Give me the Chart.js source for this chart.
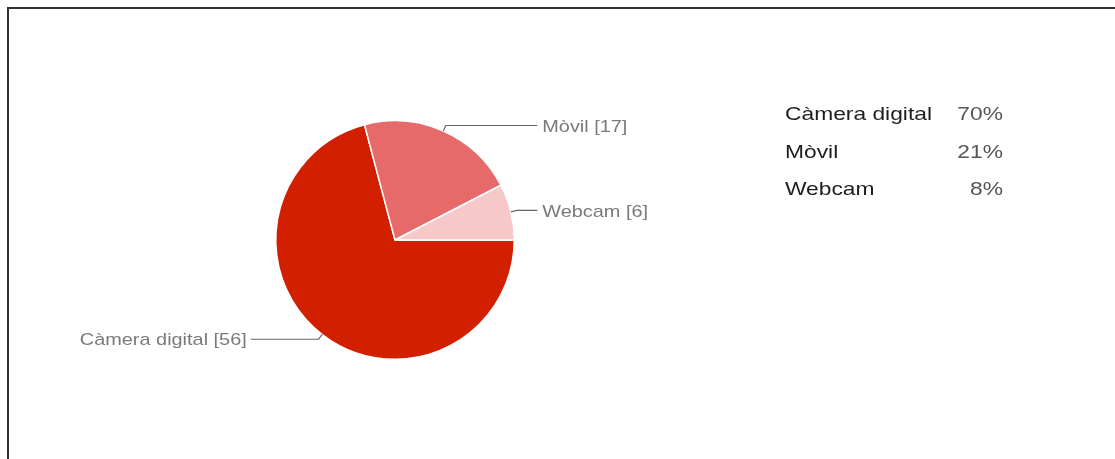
<!DOCTYPE html>
<html>
<head>
<meta charset="utf-8">
<script src="https://cdn.jsdelivr.net/npm/chart.js@4"></script>
<style>
html,body{margin:0;padding:0;background:#fff;overflow:hidden;}
#frame{position:absolute;left:7px;top:7px;width:1200px;height:600px;border-left:2px solid #333;border-top:2px solid #333;}
#wrap{position:absolute;left:0;top:0;width:1115px;height:459px;}
</style>
</head>
<body>
<div id="frame"></div>
<div id="wrap"><canvas id="c" width="1115" height="459"></canvas></div>
<script>
const categories = ["Càmera digital", "Mòvil", "Webcam"];
const counts = [56, 17, 6];
const percentLabels = ["70%", "21%", "8%"];
const sliceColors = ["#d21f00", "#e56a69", "#f6c8c8"];

function wideText(ctx, txt, x, y, sx) {
  ctx.save();
  ctx.translate(x, y);
  ctx.scale(sx, 1);
  ctx.fillText(txt, 0, 0);
  ctx.restore();
}

const sliceLabels = {
  id: 'sliceLabels',
  afterDatasetsDraw(chart) {
    const ctx = chart.ctx;
    const meta = chart.getDatasetMeta(0);
    ctx.save();
    ctx.font = '17px "Liberation Sans", Arial, sans-serif';
    ctx.textBaseline = 'middle';
    meta.data.forEach((arc, i) => {
      const mid = (arc.startAngle + arc.endAngle) / 2;
      const r = arc.outerRadius;
      const ex = arc.x + Math.cos(mid) * r, ey = arc.y + Math.sin(mid) * r;
      const bx = arc.x + Math.cos(mid) * (r + 6), by = arc.y + Math.sin(mid) * (r + 6);
      const right = Math.cos(mid) >= 0;
      const endX = right ? arc.x + r + 23 : arc.x - r - 25;
      ctx.strokeStyle = '#666';
      ctx.lineWidth = 1.2;
      ctx.beginPath();
      ctx.moveTo(ex, ey);
      ctx.lineTo(bx, by);
      ctx.lineTo(endX, by);
      ctx.stroke();
      ctx.fillStyle = '#7a7a7a';
      const txt = categories[i] + ' [' + counts[i] + ']';
      if (right) { ctx.textAlign = 'left'; wideText(ctx, txt, endX + 5, by + 2, 1.17); }
      else { ctx.textAlign = 'right'; wideText(ctx, txt, endX - 4, by + 1, 1.17); }
    });
    // legend
    ctx.font = '19px "Liberation Sans", Arial, sans-serif';
    categories.forEach((c, i) => {
      const y = 115 + i * 37.5;
      ctx.textAlign = 'left';
      ctx.fillStyle = '#1e1e1e';
      wideText(ctx, c, 785, y, 1.2);
      ctx.textAlign = 'right';
      ctx.fillStyle = '#555';
      wideText(ctx, percentLabels[i], 1003, y, 1.2);
    });
    ctx.restore();
  }
};

new Chart(document.getElementById('c'), {
  type: 'pie',
  data: {
    labels: categories,
    datasets: [{
      data: counts,
      backgroundColor: sliceColors,
      borderColor: '#ffffff',
      borderWidth: 1.5
    }]
  },
  options: {
    responsive: false,
    animation: false,
    rotation: 90,
    layout: { padding: { left: 275, right: 600, top: 120, bottom: 99 } },
    plugins: { legend: { display: false }, tooltip: { enabled: false } }
  },
  plugins: [sliceLabels]
});
</script>
</body>
</html>
